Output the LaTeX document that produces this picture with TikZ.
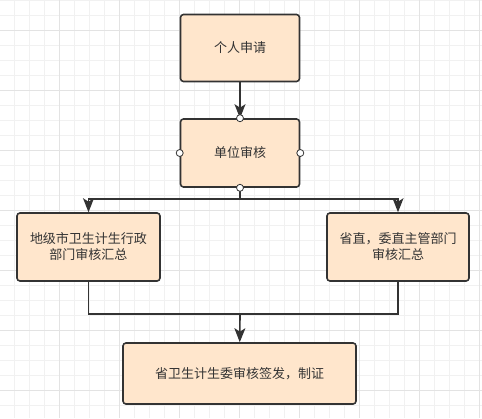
\documentclass[tikz,border=0pt]{standalone}
\usepackage{fontspec}
\newfontfamily\cjk{Noto Sans CJK SC}
\usetikzlibrary{arrows.meta}
\definecolor{boxfill}{HTML}{FFE6CC}
\definecolor{boxline}{HTML}{333333}
\definecolor{gridlight}{HTML}{F1F1F1}
\definecolor{griddark}{HTML}{E3E3E3}
\begin{document}
\begin{tikzpicture}[x=1pt,y=-1pt,
    stepbox/.style={draw=boxline,fill=boxfill,line width=1.6pt,rounded corners=3pt,
      align=center,font=\cjk\fontsize{13}{16}\selectfont,text=boxline,inner sep=0pt},
    flow/.style={draw=boxline,line width=1.6pt},
    flowarrow/.style={flow,-{Stealth[length=14pt,width=11pt,inset=3.5pt]}},
    port/.style={circle,draw=boxline,fill=white,line width=0.8pt,minimum size=7pt,inner sep=0pt}]
    \useasboundingbox (0,0) rectangle (482,418);
    \fill[white] (0,0) rectangle (482,418);
    % background grid, every fourth line darker
    \foreach \k in {0,...,31} {
      \draw[gridlight,line width=0.6pt] (14.3+15*\k,0) -- (14.3+15*\k,418);
      \draw[gridlight,line width=0.6pt] (0,0.7+15*\k) -- (482,0.7+15*\k);
    }
    \foreach \k in {0,...,7} {
      \draw[griddark,line width=0.6pt] (59.3+60*\k,0) -- (59.3+60*\k,418);
      \draw[griddark,line width=0.6pt] (0,30.7+60*\k) -- (482,30.7+60*\k);
    }
    % the boxes, top to bottom
    \node[stepbox,minimum width=119pt,minimum height=67pt] (apply) at (240,48) {个人申请};
    \node[stepbox,minimum width=119pt,minimum height=68pt] (unit) at (240,153) {单位审核};
    \node[stepbox,minimum width=143pt,minimum height=68pt] (city) at (88.5,247) {地级市卫生计生行政\\部门审核汇总};
    \node[stepbox,minimum width=142pt,minimum height=68pt] (prov) at (398,247) {省直，委直主管部门\\审核汇总};
    \node[stepbox,minimum width=233pt,minimum height=61pt] (issue) at (239.5,373.5) {省卫生计生委审核签发，制证};
    \coordinate (split) at (240,199);
    \coordinate (merge) at (240,314);
    % connectors
    \draw[flowarrow] (apply) -- (unit);
    \draw[flow] (unit) -- (split);
    \draw[flowarrow] (split) -| (city);
    \draw[flowarrow] (split) -| (prov);
    \draw[flow] (city) |- (merge);
    \draw[flow] (prov) |- (merge);
    \draw[flowarrow] (merge) -- (issue);
    % connection points of the selected box
    \node[port] at (unit.north) {};
    \node[port] at (unit.south) {};
    \node[port] at (unit.west) {};
    \node[port] at (unit.east) {};
\end{tikzpicture}
\end{document}
